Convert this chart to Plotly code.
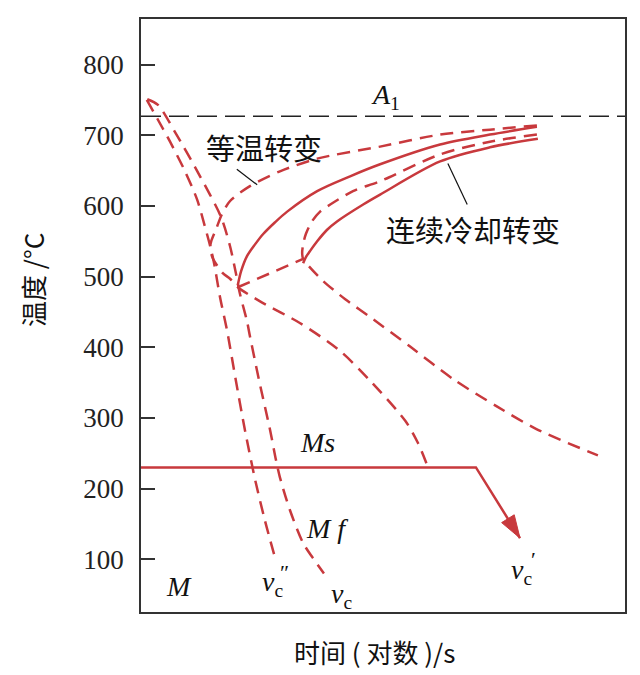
import plotly.graph_objects as go

# ---------------- data (x = log time, arbitrary units 0..100; y = temperature, deg C) -------------
A1_T = 727
Ms_T = 230

# critical cooling curve v_c'' (tangent to isothermal nose)
vc2_x = [1.2, 3.5, 6.0, 9.1, 11.6, 13.2, 14.3, 15.1, 16.3, 17.8, 19.6, 21.5, 23.6, 25.6, 27.7]
vc2_T = [750, 722, 691, 649, 609, 571, 543, 519, 472, 423, 353, 282, 212, 155, 102]

# critical cooling curve v_c (tangent to continuous-cooling nose)
vc_x = [1.3, 3.5, 7.0, 12.2, 16.5, 18.4, 19.6, 20.3, 21.1, 21.9, 22.5, 24.4, 26.7, 27.9, 28.7, 30.8, 33.5, 35.5, 37.8]
vc_T = [751, 743, 705, 642, 585, 543, 505, 480, 458, 437, 416, 353, 282, 240, 216, 169, 123, 102, 80]

# isothermal transformation start (C curve)
ttt_s_x = [81.8, 72.1, 61.8, 49.4, 36.4, 28.7, 22.5, 18.4, 16.7, 15.5, 14.5, 14.3, 14.5, 14.9, 16.9, 18.4,
           20.0, 24.6, 32.9, 41.1, 47.3, 54.6, 57.2, 59.3]
ttt_s_T = [714, 708, 701, 684, 667, 649, 628, 607, 588, 567, 550, 543, 533, 525, 505, 497,
           485, 465, 434, 395, 353, 296, 265, 230]

# isothermal transformation finish (C curve)
ttt_f_x = [81.8, 72.1, 61.8, 49.4, 43.8, 39.1, 37.0, 35.3, 34.1, 33.5, 33.3, 33.5, 34.9, 37.6, 42.2,
           47.3, 55.6, 64.5, 73.6, 81.8, 94.4]
ttt_f_T = [701, 691, 673, 635, 621, 602, 592, 578, 561, 546, 533, 525, 513, 494, 468,
           443, 401, 355, 316, 284, 247]

# continuous cooling transformation start
cct_s_x = [20.0, 20.7, 21.9, 23.6, 25.2, 27.7, 30.2, 36.4, 43.2, 49.4, 61.8, 72.1, 81.8]
cct_s_T = [488, 508, 529, 546, 560, 577, 592, 621, 642, 659, 687, 701, 712]

# continuous cooling transformation finish
cct_f_x = [33.5, 34.1, 34.9, 36.4, 38.4, 40.5, 45.9, 49.4, 61.8, 72.1, 82.0]
cct_f_T = [519, 528, 536, 550, 566, 578, 602, 616, 663, 683, 695]

# transformation stop line
stop_x = [20.0, 33.5]
stop_T = [485, 525]

# v_c' path: along Ms, then continuing down with an arrow
vc1_x = [0, 69.2, 78.3]
vc1_T = [Ms_T, Ms_T, 130]

RED = "#c8393d"
DASH = "13px,8px"
SERIF = "Liberation Serif, Noto Sans CJK SC"
CJK = "Noto Sans CJK SC"

fig = go.Figure()

def dashed(x, y):
    fig.add_trace(go.Scatter(x=x, y=y, mode="lines",
                             line=dict(color=RED, width=2.5, dash=DASH, shape="spline", smoothing=0.8),
                             hoverinfo="skip"))

def solid(x, y):
    fig.add_trace(go.Scatter(x=x, y=y, mode="lines",
                             line=dict(color=RED, width=2.5, shape="spline", smoothing=0.9),
                             hoverinfo="skip"))

# A1 line
fig.add_trace(go.Scatter(x=[0, 100], y=[A1_T, A1_T], mode="lines",
                         line=dict(color="#222", width=1.5, dash="20px,8px"), hoverinfo="skip"))

dashed(vc2_x, vc2_T)
dashed(vc_x, vc_T)
dashed(ttt_s_x, ttt_s_T)
dashed(ttt_f_x, ttt_f_T)
dashed(stop_x, stop_T)
solid(cct_s_x, cct_s_T)
solid(cct_f_x, cct_f_T)
fig.add_trace(go.Scatter(x=vc1_x, y=vc1_T, mode="lines+markers",
                         line=dict(color=RED, width=2.5),
                         marker=dict(symbol="arrow", size=[0, 0, 24], color=RED, opacity=1,
                                     angleref="previous", standoff=0,
                                     line=dict(width=1, color=RED)),
                         hoverinfo="skip"))

# leader lines for the two callouts
fig.add_shape(type="line", xref="x", yref="y", x0=19.8, y0=652, x1=24.0, y1=630,
              line=dict(color="#111", width=1.2))
fig.add_shape(type="line", xref="x", yref="y", x0=63.4, y0=660, x1=67.4, y1=602,
              line=dict(color="#111", width=1.2))

ann = []

def label(x, y, text, size=28, family=SERIF):
    ann.append(dict(x=x, y=y, xref="x", yref="y", text=text, showarrow=False,
                    font=dict(family=family, size=size, color="#111"),
                    xanchor="center", yanchor="middle"))

label(25.4, 684, "等温转变", 29, CJK)
label(68.6, 568, "连续冷却转变", 29, CJK)
label(50.6, 755, "<i>A</i><sub>1</sub>", 28)
label(36.4, 265, "<i>Ms</i>", 28)
label(38.4, 144, "<i>M f</i>", 28)
label(7.9, 61, "<i>M</i>", 28)
label(27.1, 66, "<i>v</i><sub>c</sub>", 28)
label(29.6, 82, "″", 22)
label(41.5, 49, "<i>v</i><sub>c</sub>", 28)
label(78.7, 83, "<i>v</i><sub>c</sub>", 28)
label(81.0, 99, "′", 22)

# axis titles
ann.append(dict(x=-0.223, y=0.56, xref="paper", yref="paper", text="温度 /°C", textangle=-90,
                xanchor="center", yanchor="middle",
                showarrow=False, font=dict(family=CJK, size=26, color="#111")))
ann.append(dict(x=0.483, y=-0.066, xref="paper", yref="paper", text="时间 ( 对数 )/s",
                xanchor="center", yanchor="middle",
                showarrow=False, font=dict(family=CJK, size=26, color="#111")))

fig.update_layout(
    width=640, height=675,
    margin=dict(l=133, r=23, t=9, b=71),
    paper_bgcolor="white", plot_bgcolor="white",
    showlegend=False,
    annotations=ann,
    xaxis=dict(range=[0, 100], showline=True, linecolor="#333", linewidth=1.5, mirror=True,
               showgrid=False, zeroline=False, showticklabels=False, ticks=""),
    yaxis=dict(range=[25.4, 864.6], showline=True, linecolor="#333", linewidth=1.5, mirror=True,
               showgrid=False, zeroline=False, ticks="inside", ticklen=14, tickwidth=1.5,
               tickcolor="#333", tickvals=[100, 200, 300, 400, 500, 600, 700, 800],
               tickfont=dict(family=SERIF, size=27, color="#222"), ticklabelstandoff=10),
)

fig.write_html("out.html")
